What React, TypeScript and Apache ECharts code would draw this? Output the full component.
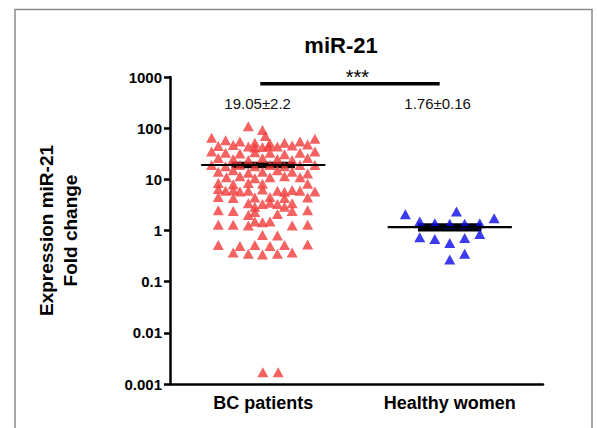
import React, { useEffect, useRef } from "react";
import * as echarts from "echarts";

const categories = ["BC patients", "Healthy women"];
const yTickLabels = ["0.001", "0.01", "0.1", "1", "10", "100", "1000"];

// horizontal spread (in category widths) and fold change of each BC patient
const bcSpread = [
  -0.080, -0.004, 0.011,
  -0.277, -0.202, -0.125, -0.045, 0.036, 0.114, 0.197, 0.277,
  -0.241, -0.161, -0.080, -0.045, -0.004, 0.028, 0.076, 0.155, 0.238,
  -0.277, -0.202, -0.125, -0.045, 0.036, 0.114, 0.197, 0.277,
  -0.241, -0.161, -0.080, -0.004, 0.076, 0.155, 0.238,
  -0.277, -0.202, -0.125, -0.045, 0.036, 0.114, 0.197, 0.277,
  -0.241, -0.161, -0.080, -0.004, 0.076, 0.155, 0.238,
  -0.197, -0.125, -0.045, 0.036, 0.114, 0.197,
  -0.241, -0.161, -0.080, -0.004, 0.238,
  -0.241, -0.202, -0.161, -0.125, -0.080, -0.004, 0.076, 0.114, 0.155, 0.197, 0.277,
  -0.241, -0.161, -0.045, 0.036, 0.114, 0.238,
  -0.080, -0.004, 0.036, 0.076, 0.155,
  -0.045, 0.114,
  -0.241, -0.161, -0.045, 0.155, 0.238,
  -0.080, 0.076,
  -0.045, -0.004, 0.036,
  -0.241, -0.161, -0.080, 0.155, 0.238,
  -0.004, 0.076,
  -0.241, -0.125, -0.045, 0.036, 0.114, 0.238,
  -0.161, -0.080, -0.004, 0.076, 0.155,
  -0.002, 0.080,
];
const bcValues = [
  109, 92, 70,
  65, 58, 55, 52, 50, 52, 55, 62,
  45, 47, 44, 42, 43, 45, 44, 46, 48,
  35, 33, 32, 34, 33, 31, 33, 35,
  26, 25, 24, 26, 25, 24, 26,
  19, 18, 19, 18, 19, 18, 19, 19,
  14, 15, 13.5, 14, 15, 14, 13,
  11, 11.5, 10.5, 11, 11.5, 11,
  8.5, 8, 8.5, 8.2, 8.2,
  6.5, 6, 6.2, 5.8, 6, 6.3, 6, 5.7, 6.2, 6, 5.8,
  4.5, 4.3, 4.4, 4.5, 4.3, 4.4,
  3.4, 3.3, 3.5, 3.3, 3.4,
  2.9, 2.9,
  2.5, 2.4, 2.3, 2.4, 2.5,
  2.0, 2.1,
  1.5, 1.45, 1.5,
  1.3, 1.3, 1.25, 1.25, 1.3,
  0.82, 0.8,
  0.52, 0.5, 0.52, 0.5, 0.52, 0.53,
  0.37, 0.35, 0.34, 0.35, 0.37,
  0.0017, 0.0017,
];

const hwSpread = [-0.238, 0.036, 0.238, -0.161, -0.08, 0, 0.08, 0.161, -0.161, -0.08, 0, 0.08, 0.161, 0, 0.08];
const hwValues = [2.08, 2.34, 1.74, 1.5, 1.39, 1.35, 1.35, 1.39, 0.74, 0.68, 0.57, 0.71, 0.85, 0.27, 0.35];

const medians = [19.05, 1.16];
const bandLow = [16.5, 0.96];
const bandHigh = [22, 1.39];
const groupLabels = ["19.05±2.2", "1.76±0.16"];
const significance = "***";

export default function App() {
  const ref = useRef<HTMLDivElement>(null);
  useEffect(() => {
    if (!ref.current) return;
    const chart = echarts.init(ref.current, null, { renderer: "svg" });
    const font = "'Liberation Sans', Arial, sans-serif";
    const bcData = bcValues.map((v, i) => [0 + bcSpread[i], v]);
    const hwData = hwValues.map((v, i) => [1 + hwSpread[i], v]);
    const medData = categories.map((_, i) => [i, medians[i], bandLow[i], bandHigh[i]]);
    const lblData = categories.map((_, i) => [i, 300]);

    chart.setOption({
      animation: false,
      textStyle: { fontFamily: font },
      title: {
        text: "miR-21",
        left: 336,
        textAlign: "center",
        top: 29,
        textStyle: { fontSize: 22, fontWeight: "bold", color: "#000", fontFamily: font },
      },
      graphic: [
        {
          type: "rect",
          shape: { x: 15, y: 9.5, width: 577, height: 430 },
          style: { fill: "none", stroke: "#8a8a8a", lineWidth: 1.5 },
          silent: true,
        },
      ],
      grid: { left: 170, right: 54, top: 77, bottom: 44 },
      xAxis: [
        {
          type: "category",
          data: categories,
          boundaryGap: true,
          axisLine: { lineStyle: { color: "#000", width: 2.5 } },
          axisTick: { alignWithLabel: true, length: 6, lineStyle: { color: "#000", width: 2.5 } },
          axisLabel: { color: "#000", fontWeight: "bold", fontSize: 18, margin: 10, fontFamily: font },
          splitLine: { show: false },
        },
        { type: "value", min: -0.5, max: 1.5, show: false },
      ],
      yAxis: {
        type: "log",
        logBase: 10,
        min: 0.001,
        max: 1000,
        interval: 1,
        name: "Expression miR-21\nFold change",
        nameLocation: "middle",
        nameRotate: 90,
        nameGap: 88,
        nameTextStyle: { color: "#000", fontWeight: "bold", fontSize: 19, lineHeight: 24, fontFamily: font },
        axisLine: { show: true, onZero: false, lineStyle: { color: "#000", width: 2.5 } },
        axisTick: { show: true, length: 6, lineStyle: { color: "#000", width: 2.5 } },
        axisLabel: {
          color: "#000",
          fontWeight: "bold",
          fontSize: 15,
          margin: 8,
          fontFamily: font,
          formatter: (v: number) => {
            const e = Math.round(Math.log10(v));
            return yTickLabels[e + 3] ?? "";
          },
        },
        splitLine: { show: false },
        minorTick: { show: false },
      },
      series: [
        {
          type: "custom",
          name: "band",
          xAxisIndex: 1,
          yAxisIndex: 0,
          z: 1,
          silent: true,
          data: medData,
          renderItem: (params: any, api: any) => {
            const i = api.value(0);
            const p1 = api.coord([i - 0.17, api.value(3)]);
            const p2 = api.coord([i + 0.17, api.value(2)]);
            return {
              type: "rect",
              shape: { x: p1[0], y: p1[1], width: p2[0] - p1[0], height: p2[1] - p1[1] },
              style: { fill: "#000" },
            };
          },
        },
        {
          type: "scatter",
          name: "BC patients",
          xAxisIndex: 1,
          yAxisIndex: 0,
          z: 2,
          symbol: "triangle",
          symbolSize: [11, 10],
          itemStyle: { color: "#f23b3b" },
          data: bcData,
        },
        {
          type: "scatter",
          name: "Healthy women",
          xAxisIndex: 1,
          yAxisIndex: 0,
          z: 2,
          symbol: "triangle",
          symbolSize: [11, 10],
          itemStyle: { color: "#0a0ae8" },
          data: hwData,
        },
        {
          type: "custom",
          name: "median",
          xAxisIndex: 1,
          yAxisIndex: 0,
          z: 3,
          silent: true,
          data: medData,
          renderItem: (params: any, api: any) => {
            const i = api.value(0);
            const a = api.coord([i - 0.333, api.value(1)]);
            const b = api.coord([i + 0.333, api.value(1)]);
            return {
              type: "line",
              shape: { x1: a[0], y1: a[1], x2: b[0], y2: b[1] },
              style: { stroke: "#000", lineWidth: 2.2 },
            };
          },
        },
        {
          type: "custom",
          name: "labels",
          xAxisIndex: 1,
          yAxisIndex: 0,
          z: 4,
          silent: true,
          data: lblData,
          renderItem: (params: any, api: any) => {
            const i = api.value(0);
            const p = api.coord([i - 0.03 - 0.035 * i, api.value(1)]);
            return {
              type: "text",
              x: p[0],
              y: p[1],
              style: {
                text: groupLabels[params.dataIndex],
                fontSize: 15,
                fontFamily: font,
                fill: "#111",
                align: "center",
                verticalAlign: "middle",
              },
            };
          },
        },
        {
          type: "custom",
          name: "significance",
          xAxisIndex: 1,
          yAxisIndex: 0,
          z: 4,
          silent: true,
          data: [[0, 740]],
          renderItem: (params: any, api: any) => {
            const v = api.value(1);
            const a = api.coord([-0.016, v]);
            const b = api.coord([1 - 0.054, v]);
            const t = api.coord([0.505, v]);
            return {
              type: "group",
              children: [
                {
                  type: "line",
                  shape: { x1: a[0], y1: a[1], x2: b[0], y2: b[1] },
                  style: { stroke: "#000", lineWidth: 3.5 },
                },
                {
                  type: "text",
                  x: t[0],
                  y: t[1] - 7,
                  style: {
                    text: significance,
                    fontSize: 20,
                    fontFamily: font,
                    fill: "#000",
                    align: "center",
                    verticalAlign: "middle",
                  },
                },
              ],
            };
          },
        },
      ],
    });
    return () => chart.dispose();
  }, []);
  return (
    <div
      ref={ref}
      style={{ position: "fixed", left: 0, top: 0, width: 597, height: 428, background: "#fff" }}
    />
  );
}
